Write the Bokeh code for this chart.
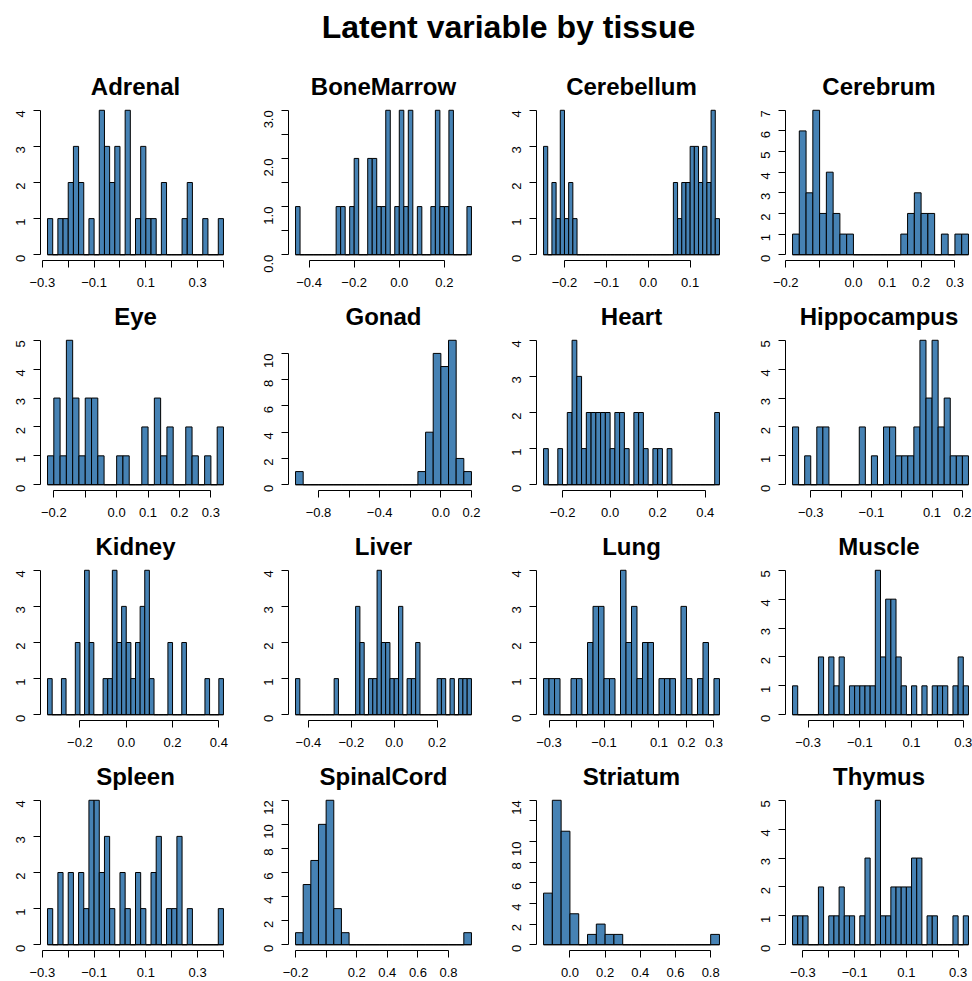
import math
from bokeh.plotting import figure
from bokeh.layouts import column, row
from bokeh.models import Range1d, FixedTicker, CustomJSTickFormatter, ColumnDataSource
from bokeh.embed import file_html
from bokeh.resources import INLINE

M = "\u2212"

tissues = ["Adrenal", "BoneMarrow", "Cerebellum", "Cerebrum",
           "Eye", "Gonad", "Heart", "Hippocampus",
           "Kidney", "Liver", "Lung", "Muscle",
           "Spleen", "SpinalCord", "Striatum", "Thymus"]

bin_start = [-0.28, -0.46, -0.25, -0.18,
             -0.22, -0.95, -0.28, -0.36,
             -0.34, -0.46, -0.32, -0.36,
             -0.28, -0.20, -0.15, -0.34]
bin_width = [0.02, 0.02, 0.01, 0.02,
             0.02, 0.05, 0.02, 0.02,
             0.02, 0.02, 0.02, 0.02,
             0.02, 0.05, 0.05, 0.02]

adrenal = [1, 0, 1, 1, 2, 3, 2, 0, 1, 0, 4, 3, 2, 3, 0, 4, 0, 1, 3, 1, 1, 0, 2, 0, 0, 0, 1, 2, 0, 0, 1, 0, 0, 1]
bone_marrow = [1, 0, 0, 0, 0, 0, 0, 0, 0, 1, 1, 0, 1, 2, 0, 0, 2, 2, 1, 1, 3, 0, 1, 3, 1, 3, 0, 1, 0, 0, 1, 3, 1, 1, 3, 0, 0, 0, 1]
cerebellum = [3, 0, 2, 1, 4, 1, 2, 1, 0, 0, 0, 0, 0, 0, 0, 0, 0, 0, 0, 0, 0, 0, 0, 0, 0, 0, 0, 0, 0, 0, 0,
              2, 1, 2, 2, 3, 3, 2, 3, 2, 4, 1]
cerebrum = [1, 6, 3, 7, 2, 4, 2, 1, 1, 0, 0, 0, 0, 0, 0, 0, 1, 2, 3, 2, 2, 0, 1, 0, 1, 1]
eye = [1, 3, 1, 5, 3, 1, 3, 3, 1, 0, 0, 1, 1, 0, 0, 2, 0, 3, 1, 2, 0, 0, 2, 1, 0, 1, 0, 2]
gonad = [1, 0, 0, 0, 0, 0, 0, 0, 0, 0, 0, 0, 0, 0, 0, 0, 1, 4, 10, 9, 11, 2, 1]
heart = [1, 0, 0, 1, 0, 2, 4, 3, 1, 2, 2, 2, 2, 2, 1, 2, 2, 1, 0, 2, 2, 1, 0, 1, 1, 0, 1,
         0, 0, 0, 0, 0, 0, 0, 0, 0, 2]
hippocampus = [2, 0, 1, 0, 2, 2, 0, 0, 0, 0, 0, 2, 0, 1, 0, 2, 2, 1, 1, 1, 2, 5, 3, 5, 2, 3, 1, 1, 1]
kidney = [1, 0, 0, 1, 0, 0, 2, 0, 4, 2, 0, 0, 1, 1, 4, 2, 3, 2, 1, 2, 3, 4, 1, 0, 0, 0, 2, 0, 0, 2,
          0, 0, 0, 0, 1, 0, 0, 1]
liver = [1, 0, 0, 0, 0, 0, 0, 0, 0, 1, 0, 0, 0, 0, 3, 2, 0, 1, 1, 4, 2, 2, 1, 1, 3, 0, 1, 1, 2,
         0, 0, 0, 0, 1, 1, 0, 1, 0, 1, 1, 1]
lung = [1, 1, 1, 0, 0, 1, 1, 0, 2, 3, 3, 1, 1, 0, 4, 2, 3, 1, 2, 2, 0, 1, 1, 1, 0, 3, 1, 0, 1, 2, 0, 1]
muscle = [1, 0, 0, 0, 0, 2, 0, 2, 1, 2, 0, 1, 1, 1, 1, 1, 5, 2, 4, 4, 2, 1, 0, 1, 0, 1, 0, 1, 1, 1, 0, 1, 2, 1]
spleen = [1, 0, 2, 0, 2, 0, 2, 1, 4, 4, 2, 3, 1, 0, 2, 1, 0, 2, 1, 0, 2, 3, 0, 1, 1, 3, 0, 1, 0, 0, 0, 0, 0, 1]
spinal_cord = [1, 5, 7, 10, 12, 3, 1, 0, 0, 0, 0, 0, 0, 0, 0, 0, 0, 0, 0, 0, 0, 0, 1]
striatum = [5, 14, 11, 3, 0, 1, 2, 1, 1, 0, 0, 0, 0, 0, 0, 0, 0, 0, 0, 1]
thymus = [1, 1, 1, 0, 0, 2, 0, 1, 1, 2, 1, 1, 0, 1, 3, 0, 5, 1, 1, 2, 2, 2, 2, 3, 3, 0, 1, 1, 0, 0, 0, 1, 0, 1]

counts = [adrenal, bone_marrow, cerebellum, cerebrum,
          eye, gonad, heart, hippocampus,
          kidney, liver, lung, muscle,
          spleen, spinal_cord, striatum, thymus]

xt_a = [-0.3, -0.2, -0.1, 0.0, 0.1, 0.2, 0.3, 0.4]
xl_a = [M + "0.3", "", M + "0.1", "", "0.1", "", "0.3", ""]
xt_b = [-0.4, -0.2, 0.0, 0.2]
xl_b = [M + "0.4", M + "0.2", "0.0", "0.2"]
xt_c = [-0.2, -0.1, 0.0, 0.1]
xl_c = [M + "0.2", M + "0.1", "0.0", "0.1"]
xt_d = [-0.2, -0.1, 0.0, 0.1, 0.2, 0.3]
xl_d = [M + "0.2", "", "0.0", "0.1", "0.2", "0.3"]
xt_g = [-0.8, -0.6, -0.4, -0.2, 0.0, 0.2]
xl_g = [M + "0.8", "", M + "0.4", "", "0.0", "0.2"]
xt_h = [-0.2, 0.0, 0.2, 0.4]
xl_h = [M + "0.2", "0.0", "0.2", "0.4"]
xt_hc = [-0.3, -0.2, -0.1, 0.0, 0.1, 0.2]
xl_hc = [M + "0.3", "", M + "0.1", "", "0.1", "0.2"]
xt_m = [-0.3, -0.2, -0.1, 0.0, 0.1, 0.2, 0.3]
xl_lung = [M + "0.3", "", M + "0.1", "", "0.1", "0.2", "0.3"]
xl_m = [M + "0.3", "", M + "0.1", "", "0.1", "", "0.3"]
xt_sc = [-0.2, 0.0, 0.2, 0.4, 0.6, 0.8]
xl_sc = [M + "0.2", "", "0.2", "0.4", "0.6", "0.8"]
xt_st = [0.0, 0.2, 0.4, 0.6, 0.8]
xl_st = ["0.0", "0.2", "0.4", "0.6", "0.8"]

x_ticks = [xt_a, xt_b, xt_c, xt_d, xt_d, xt_g, xt_h, xt_hc,
           xt_h, xt_b, xt_m, xt_m, xt_a, xt_sc, xt_st, xt_m]
x_labels = [xl_a, xl_b, xl_c, xl_d, xl_d, xl_g, xl_h, xl_hc,
            xl_h, xl_b, xl_lung, xl_m, xl_a, xl_sc, xl_st, xl_m]

yt4 = [0, 1, 2, 3, 4]
yl4 = ["0", "1", "2", "3", "4"]
yt5 = [0, 1, 2, 3, 4, 5]
yl5 = ["0", "1", "2", "3", "4", "5"]
yt7 = [0, 1, 2, 3, 4, 5, 6, 7]
yl7 = ["0", "1", "2", "3", "4", "5", "6", "7"]
yt_bm = [0.0, 0.5, 1.0, 1.5, 2.0, 2.5, 3.0]
yl_bm = ["0.0", "", "1.0", "", "2.0", "", "3.0"]
yt10 = [0, 2, 4, 6, 8, 10]
yl10 = ["0", "2", "4", "6", "8", "10"]
yt12 = [0, 2, 4, 6, 8, 10, 12]
yl12 = ["0", "2", "4", "6", "8", "10", "12"]
yt14 = [0, 2, 4, 6, 8, 10, 12, 14]
yl14 = ["0", "2", "4", "6", "8", "10", "", "14"]

y_ticks = [yt4, yt_bm, yt4, yt7, yt5, yt10, yt4, yt5,
           yt4, yt4, yt4, yt5, yt4, yt12, yt14, yt5]
y_labels = [yl4, yl_bm, yl4, yl7, yl5, yl10, yl4, yl5,
            yl4, yl4, yl4, yl5, yl4, yl12, yl14, yl5]

FONT = "Liberation Sans"
FILL = "#4682B4"
FIG_W = [248, 248, 248, 228]
BORDER_L = [40, 40, 40, 41]
BORDER_R = [18, 18, 18, 0]
FRAME_W = 190
ROW_H = 230
TOP_B = 42
BOT_B = 32

JS = """
for (let k = 0; k < tv.length; k++) {
  if (Math.abs(tv[k] - tick) < 1e-9) { return tl[k]; }
}
return '';
"""


def style_axis(ax, ticks, labels):
    ax.ticker = FixedTicker(ticks=ticks, minor_ticks=[])
    ax.formatter = CustomJSTickFormatter(args=dict(tv=ticks, tl=labels), code=JS)
    ax.bounds = (ticks[0], ticks[-1])
    ax.axis_line_color = "black"
    ax.axis_line_width = 1
    ax.major_tick_line_color = "black"
    ax.major_tick_out = 7
    ax.major_tick_in = 0
    ax.minor_tick_out = 0
    ax.minor_tick_in = 0
    ax.major_label_text_font = FONT
    ax.major_label_text_font_size = "13px"
    ax.major_label_text_color = "black"


def make_panel(i):
    c = i % 4
    cnt = counts[i]
    n = len(cnt)
    edges = [round(bin_start[i] + bin_width[i] * k, 6) for k in range(n + 1)]
    lo, hi = edges[0], edges[-1]
    pad = 0.04 * (hi - lo)
    x0, x1 = lo - pad, hi + pad
    fw = FIG_W[c] - BORDER_L[c] - BORDER_R[c]
    x1 = x0 + (x1 - x0) * fw / FRAME_W
    ymax = max(cnt)
    p = figure(width=FIG_W[c], height=ROW_H,
               x_range=Range1d(x0, x1), y_range=Range1d(-0.04 * ymax, 1.04 * ymax),
               toolbar_location=None, output_backend="svg",
               min_border_left=BORDER_L[c], min_border_right=BORDER_R[c],
               min_border_top=TOP_B, min_border_bottom=BOT_B,
               title=tissues[i])
    p.title.align = "center"
    p.title.text_font = FONT
    p.title.text_font_size = "24px"
    p.title.text_font_style = "bold"
    p.title.text_color = "black"
    p.title.standoff = 9
    p.outline_line_color = None
    p.grid.visible = False
    p.background_fill_color = "white"
    p.border_fill_color = "white"
    src = ColumnDataSource(dict(left=edges[:-1], right=edges[1:], top=cnt))
    p.quad(left="left", right="right", bottom=0, top="top", source=src,
           fill_color=FILL, line_color="black", line_width=1)
    p.line(x=[edges[0], edges[-1]], y=[0, 0], line_color="black", line_width=1)
    style_axis(p.xaxis[0], x_ticks[i], x_labels[i])
    style_axis(p.yaxis[0], y_ticks[i], y_labels[i])
    p.xaxis.major_label_standoff = 10
    p.yaxis.major_label_standoff = 13
    p.yaxis.major_label_orientation = math.pi / 2
    return p


top = figure(width=972, height=62, toolbar_location=None, output_backend="svg",
             x_axis_location=None, y_axis_location=None,
             min_border_left=44, min_border_right=0, min_border_top=47, min_border_bottom=0,
             title="Latent variable by tissue")
top.title.align = "center"
top.title.text_font = FONT
top.title.text_font_size = "32px"
top.title.text_font_style = "bold"
top.title.text_color = "black"
top.title.standoff = 6
top.outline_line_color = None
top.grid.visible = False

panels = [make_panel(i) for i in range(16)]
rows = [row(panels[4 * r:4 * r + 4], spacing=0) for r in range(4)]
layout = column([top] + rows, spacing=0)

open("out.html", "w").write(file_html(layout, INLINE))
